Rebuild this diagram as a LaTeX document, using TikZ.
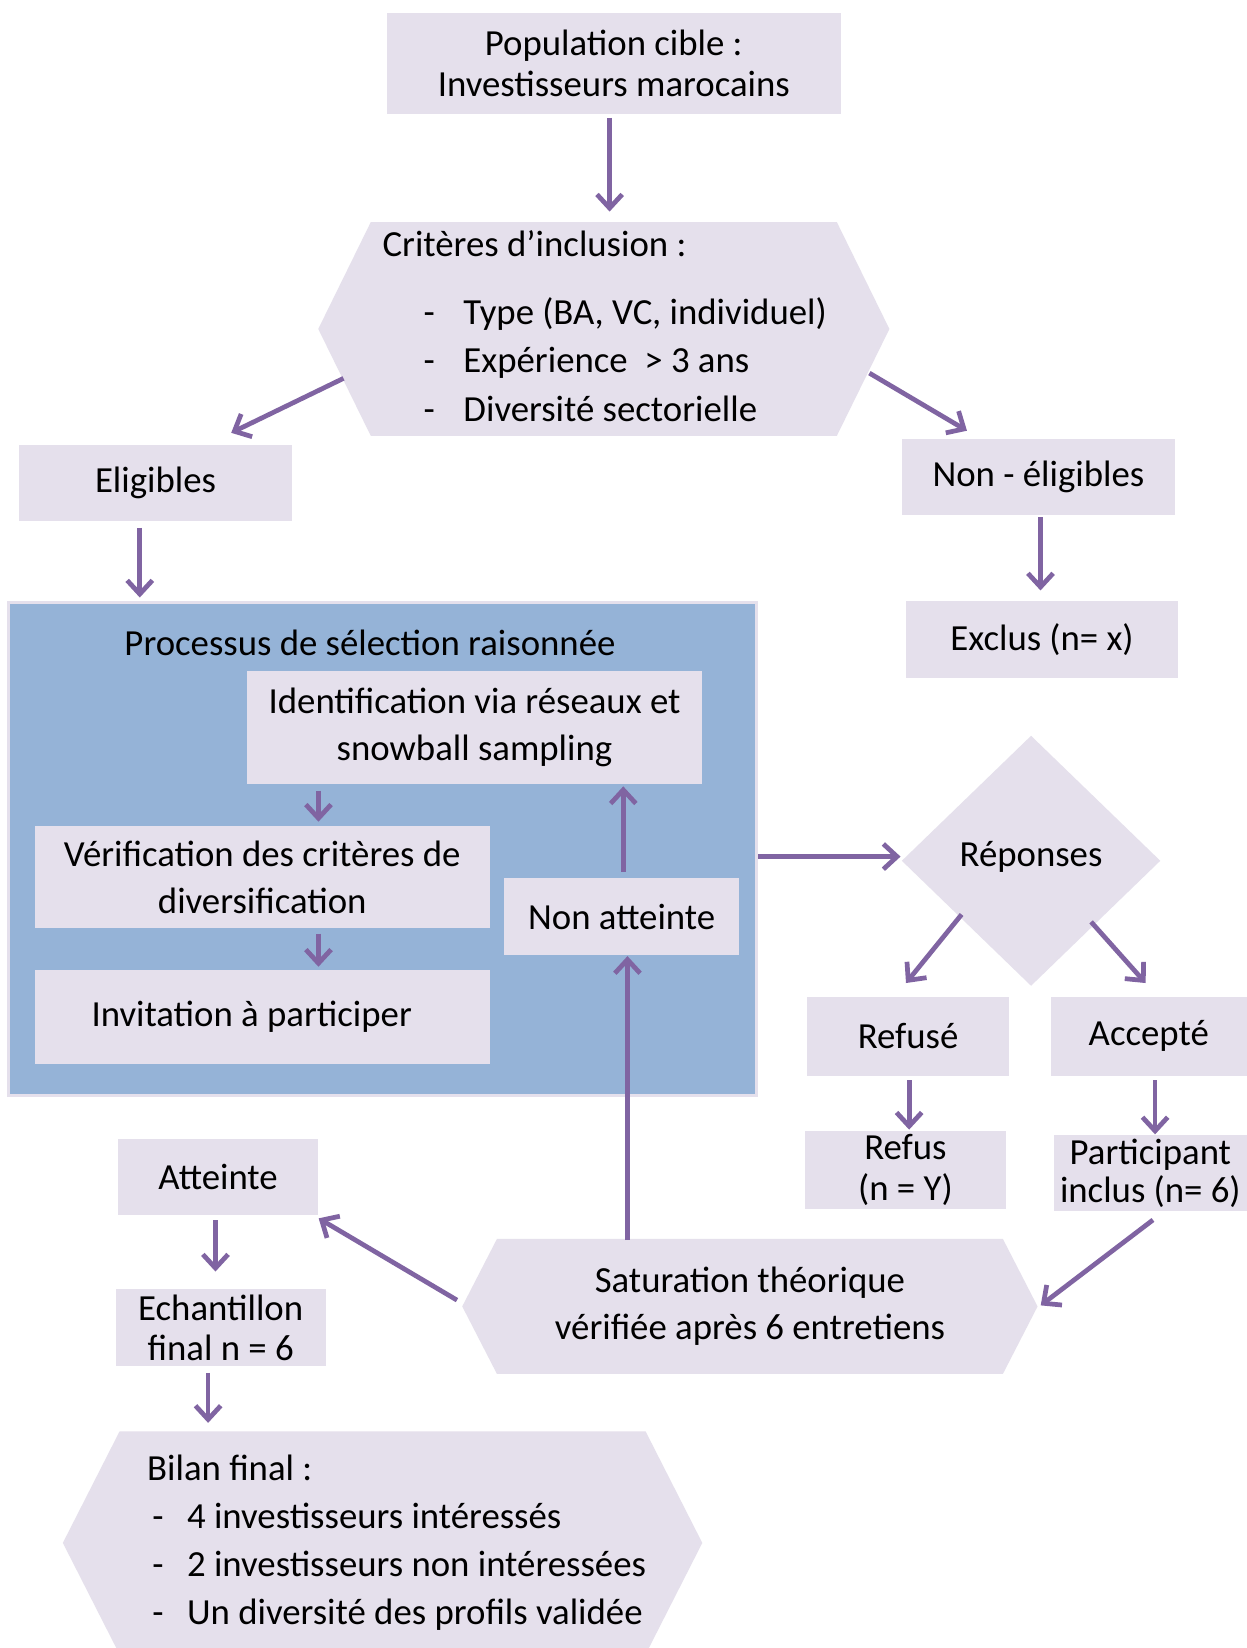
\documentclass[tikz,border=0pt]{standalone}
\usepackage{fontspec}
\setmainfont{Carlito}
\usetikzlibrary{arrows.meta,calc,shapes.geometric,backgrounds}
\definecolor{lav}{HTML}{E5E0EC}
\definecolor{bluebox}{HTML}{95B3D7}
\definecolor{arrowc}{HTML}{8064A2}
\newcommand\hexfill[2]{\fill[lav] (#1.west) -- ($(#1.north west)+(#2,0)$) -- ($(#1.north east)+(-#2,0)$) -- (#1.east) -- ($(#1.south east)+(-#2,0)$) -- ($(#1.south west)+(#2,0)$) -- cycle;}
\newcommand\dashitem[2]{\hspace*{#1}\makebox[#2][l]{-}}
\begin{document}
\begin{tikzpicture}[x=1pt,y=-1pt,
  box/.style={fill=lav, draw=none, inner sep=0pt, align=center, font=\fontsize{35}{40}\selectfont},
  hexa/.style={draw=none, fill=none, inner sep=0pt, font=\fontsize{35}{46}\selectfont},
  arr/.style={draw=arrowc, line width=4.5pt, -{Straight Barb[length=13pt,width=24pt]}},
]
\useasboundingbox (0,0) rectangle (1186,1568);

% top
\node[box, minimum width=432, minimum height=96, font=\fontsize{35}{39}\selectfont] (pop) at (584,60) {Population cible :\\Investisseurs marocains};
\node[hexa, minimum width=543, minimum height=198, font=\fontsize{35}{46}\selectfont] (crit) at (574.5,313)
  {\makebox[421pt][l]{\begin{tabular}{@{}l@{}}Critères d’inclusion :\\[19pt]\dashitem{39pt}{38pt}Type (BA, VC, individuel)\\\dashitem{39pt}{38pt}Expérience~~> 3 ans\\\dashitem{39pt}{38pt}Diversité sectorielle\end{tabular}}};
\node[box, minimum width=260, minimum height=73] (elig) at (148,459.5) {Eligibles};
\node[box, minimum width=260, minimum height=72] (nonelig) at (988,454) {Non - éligibles};
\node[box, minimum width=259, minimum height=73] (exclus) at (991.5,608.5) {Exclus (n= x)};

% selection process
\node[fill=bluebox, draw=lav, line width=3pt, minimum width=712, minimum height=469, inner sep=0] (proc) at (364,807.5) {};
\node[inner sep=0, font=\fontsize{35}{40}\selectfont] (ptitle) at (352,612) {Processus de sélection raisonnée};
\node[box, minimum width=433, minimum height=108, font=\fontsize{35}{45}\selectfont] (ident) at (451.5,692) {Identification via réseaux et\\snowball sampling};
\node[box, minimum width=433, minimum height=97, font=\fontsize{35}{45}\selectfont] (verif) at (249.5,834.5) {Vérification des critères de\\diversification};
\node[box, minimum width=433, minimum height=89] (invit) at (249.5,967.5) {\hspace*{-20pt}Invitation à participer};
\node[box, minimum width=223, minimum height=73] (nonatt) at (591.5,872) {Non atteinte};

% responses
\node[diamond, fill=lav, minimum width=246, minimum height=238, inner sep=0, text depth=1.25em, font=\fontsize{35}{40}\selectfont] (rep) at (981,819) {Réponses};
\node[box, minimum width=192, minimum height=75] (refuse) at (864,986) {Refusé};
\node[box, minimum width=186, minimum height=75] (accepte) at (1093,986) {Accepté};
\node[box, minimum width=191, minimum height=74, font=\fontsize{35}{39}\selectfont] (refus) at (861.5,1113) {Refus\\(n = Y)};
\node[box, minimum width=183, minimum height=73, font=\fontsize{35}{36}\selectfont] (particip) at (1094.5,1116) {Participant\\inclus (n= 6)};

% bottom
\node[hexa, minimum width=547, minimum height=128, align=center, font=\fontsize{35}{45}\selectfont] (sat) at (713.5,1243) {Saturation théorique\\vérifiée après 6 entretiens};
\node[box, minimum width=191, minimum height=72] (atteinte) at (207.5,1120) {Atteinte};
\node[box, minimum width=200, minimum height=74, font=\fontsize{35}{38}\selectfont] (echant) at (210,1263) {Echantillon\\final n = 6};
\node[hexa, minimum width=608, minimum height=212, font=\fontsize{35}{45.5}\selectfont] (bilan) at (364,1468)
  {\makebox[448pt][l]{\begin{tabular}{@{}l@{}}Bilan final :\\\dashitem{5pt}{33pt}4 investisseurs intéressés\\\dashitem{5pt}{33pt}2 investisseurs non intéressées\\\dashitem{5pt}{33pt}Un diversité des profils validée\end{tabular}}};

\begin{pgfonlayer}{background}
\fill[white] (0,0) rectangle (1186,1568);
\hexfill{crit}{50}
\hexfill{sat}{33}
\hexfill{bilan}{54}
\end{pgfonlayer}

% connectors
\draw[arr] ($(pop.south)+(-4,4)$) -- ($(crit.north)+(5.5,-10)$);
\draw[arr] ($(crit.west)+(24,47)$) -- ($(elig.north)+(72,-11)$);
\draw[arr] ($(crit.east)+(-19,42)$) -- ($(nonelig.north)+(-68,-8)$);
\draw[arr] ($(elig.south)+(-15,6)$) -- ($(proc.north)+(-231,-3)$);
\draw[arr] ($(nonelig.south)+(2,2)$) -- ($(exclus.north)+(-1.5,-10)$);
\draw[arr] ($(ident.south)+(-148.5,6)$) -- ($(verif.north)+(53.5,-4)$);
\draw[arr] ($(verif.south)+(53.5,5)$) -- ($(invit.north)+(53.5,-3)$);
\draw[arr] ($(nonatt.north)+(1.5,-6)$) -- ($(ident.south)+(141.5,2)$);
\draw[arr] ($(sat.north)+(-116.5,1)$) -- ($(nonatt.south)+(5.5,1)$);
\draw[arr] ($(proc.east)+(0,7.5)$) -- ($(rep.west)+(-1,-4)$);
\draw[arr] ($(rep.south west)+(-4.5,-8.5)$) -- ($(refuse.north)+(-2,-13)$);
\draw[arr] ($(rep.south east)+(-4.5,-1.5)$) -- ($(accepte.north)+(-3,-13)$);
\draw[arr] ($(refuse.south)+(1,4)$) -- ($(refus.north)+(3.5,-1)$);
\draw[arr] ($(accepte.south)+(6,4)$) -- ($(particip.north)+(4.5,0)$);
\draw[arr] ($(particip.south)+(2.5,8)$) -- ($(sat.east)+(3,-1)$);
\draw[arr] ($(sat.west)+(-5,-6)$) -- ($(atteinte.south east)+(0,3)$);
\draw[arr] ($(atteinte.south)+(-2.5,5)$) -- ($(echant.north)+(-5,-16)$);
\draw[arr] ($(echant.south)+(-12,6)$) -- ($(bilan.north)+(-166,-8)$);
\end{tikzpicture}
\end{document}
